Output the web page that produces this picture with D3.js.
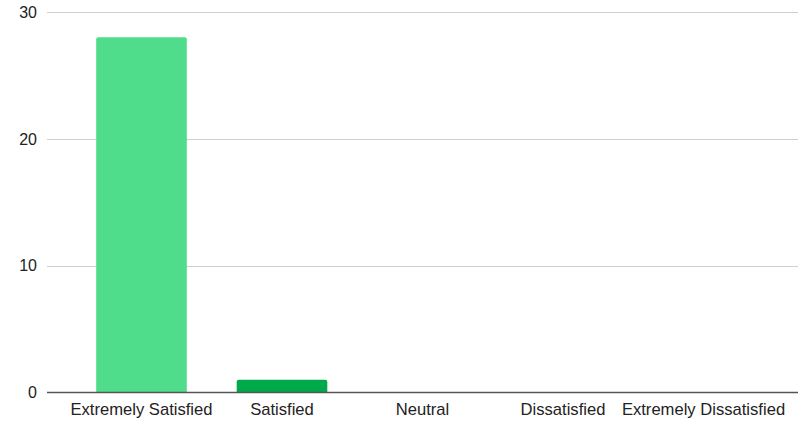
<!DOCTYPE html>
<html><head><meta charset="utf-8">
<script src="https://cdn.jsdelivr.net/npm/d3@7"></script>
<style>body{margin:0;background:#fff}svg{display:block}</style>
</head><body><svg id="c" width="803" height="424"></svg>
<script>
const categories = ["Extremely Satisfied","Satisfied","Neutral","Dissatisfied","Extremely Dissatisfied"];
const values = [28, 1, 0, 0, 0];
const barColors = ["#4fdd8b","#00aa4a","#4fdd8b","#4fdd8b","#4fdd8b"];
const yTicks = [0, 10, 20, 30];

const svg = d3.select("#c");
const font = "'Liberation Sans', Arial, sans-serif";
const x = d3.scaleBand().domain(categories).range([71.25, 773.75]).paddingInner(0.355).paddingOuter(0.1775);
const y = d3.scaleLinear().domain([0, 30]).range([392.5, 12]);
const gridX0 = 47, gridX1 = 798;

svg.append("g").selectAll("line").data(yTicks.filter(d => d !== 0)).join("line")
  .attr("x1", gridX0).attr("x2", gridX1)
  .attr("y1", d => Math.round(y(d)) + 0.5).attr("y2", d => Math.round(y(d)) + 0.5)
  .attr("stroke", "#d0d0d0").attr("stroke-width", 1);

svg.append("g").selectAll("text").data(yTicks).join("text")
  .attr("x", 37).attr("y", d => y(d)).attr("dy", "0.36em")
  .attr("text-anchor", "end").attr("font-family", font).attr("font-size", 16).attr("fill", "#222")
  .text(d => d);

const r = 2;
svg.append("g").selectAll("path").data(categories.map((c, i) => ({c, v: values[i], col: barColors[i]})).filter(d => d.v > 0)).join("path")
  .attr("fill", d => d.col)
  .attr("d", d => {
    const x0 = x(d.c), w = x.bandwidth(), y0 = y(d.v), yb = y(0);
    return `M${x0},${yb}V${y0 + r}Q${x0},${y0} ${x0 + r},${y0}H${x0 + w - r}Q${x0 + w},${y0} ${x0 + w},${y0 + r}V${yb}Z`;
  });

svg.append("line").attr("x1", gridX0).attr("x2", gridX1)
  .attr("y1", 392.5).attr("y2", 392.5).attr("stroke", "#555").attr("stroke-width", 1.3);

const xAxis = d3.axisBottom(x).tickSize(0).tickPadding(0);
const gx = svg.append("g").attr("transform", "translate(0,400)").call(xAxis);
gx.select(".domain").remove();
gx.selectAll("text").attr("font-family", font).attr("font-size", 16.6).attr("fill", "#222").attr("dy", "0.9em");
</script>
</body></html>
